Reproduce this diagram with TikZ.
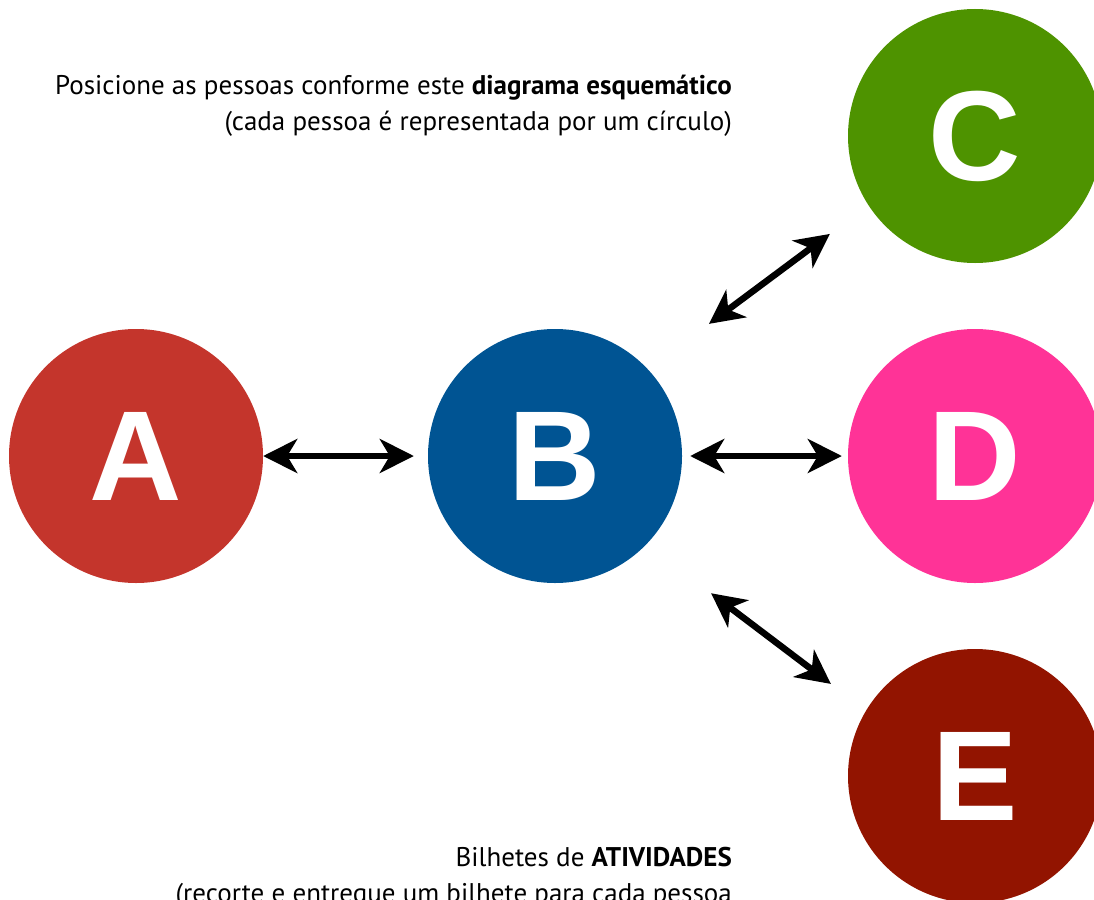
\documentclass[tikz,border=0pt]{standalone}
\usepackage{fontspec}
\setmainfont{PT Sans}
\newfontfamily\letterfont{Liberation Sans}
\usetikzlibrary{arrows.meta,positioning}
\definecolor{colA}{HTML}{C4352C}
\definecolor{colB}{HTML}{005493}
\definecolor{colC}{HTML}{4E9300}
\definecolor{colD}{HTML}{FF3397}
\definecolor{colE}{HTML}{921400}

\begin{document}
\begin{tikzpicture}[x=1pt, y=-1pt,
  person/.style={circle, fill=#1, minimum size=254pt, inner sep=0pt,
    text=white, font=\letterfont\bfseries\fontsize{128}{128}\selectfont},
  link/.style={line width=6.5pt, {Stealth[length=34pt,width=34pt,inset=10pt]}-{Stealth[length=34pt,width=34pt,inset=10pt]}},
  note/.style={anchor=base east, inner sep=0pt, font=\fontsize{27}{32}\selectfont}]
\useasboundingbox (0,0) rectangle (1094,899);

% the five people
\foreach \name/\x/\y/\col in {a/136/456/colA, b/555/456/colB, c/975/136/colC, d/975/456/colD, e/975/776/colE} {
  \node[person=\col] (\name) at (\x,\y) {\MakeUppercase{\name}};
}

% arrows between them
\draw[link, shorten >=14pt] (a) -- (b);
\draw[link, shorten <=8pt, shorten >=6pt] (b) -- (d);
\draw[link, shorten <=76pt, shorten >=48pt] (b.43) -- (c.213);
\draw[link, shorten <=81pt, shorten >=44pt] (b.-44) -- (e.149);

% texts
\node[note] (title) at (732,94) {Posicione as pessoas conforme este \textbf{diagrama esquemático}};
\node[note] (sub) at (732,130) {(cada pessoa é representada por um círculo)};
\node[note] (tickets) at (732,866) {Bilhetes de \textbf{ATIVIDADES}};
\node[note] (cut) at (732,902) {(recorte e entregue um bilhete para cada pessoa};
\end{tikzpicture}
\end{document}
